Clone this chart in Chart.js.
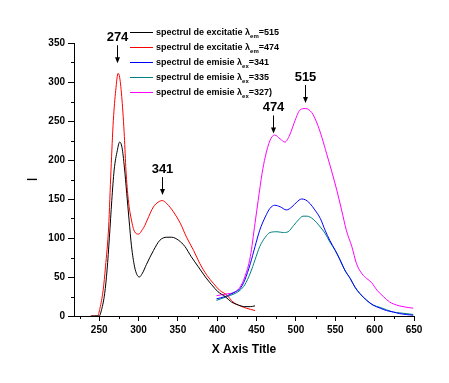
<!DOCTYPE html>
<html>
<head>
<meta charset="utf-8">
<script src="https://cdn.jsdelivr.net/npm/chart.js@4/dist/chart.umd.min.js"></script>
<style>
  html, body { margin: 0; padding: 0; background: #fff; }
  canvas { display: block; }
</style>
</head>
<body>
<canvas id="c" width="449" height="383"></canvas>
<script>
// ---- data ----
const seriesNames = [
  'spectrul de excitatie λ_em=515',
  'spectrul de excitatie λ_em=474',
  'spectrul de emisie λ_ex=341',
  'spectrul de emisie λ_ex=335',
  'spectrul de emisie λ_ex=327)'
];
const seriesColors = ['#000000', '#ff0000', '#0000ff', '#008080', '#ff00ff'];

const exc515 = [[240,0],[250,0],[253,8],[257,29],[260,59],[263,101],[266,148],[269,187],[273,212],[276,223],[279,216],[282,191],[285,157],[288,123],[291,90],[295,63],[298,53],[301,50],[305,55],[310,66],[319,84],[327,97],[336,101],[342,101],[351,97],[359,89],[367,76],[376,63],[385,50],[393,40],[401,31],[410,25],[418,18],[427,14],[435,12],[442,12],[448,13]];
const exc474 = [[239,0],[248,0],[251,10],[255,33],[258,63],[262,114],[265,187],[268,251],[271,289],[274,311],[276,306],[279,277],[282,230],[284,187],[287,149],[291,123],[295,108],[300,105],[305,111],[308,116],[311,123],[319,140],[325,146],[330,148],[336,144],[344,134],[353,119],[361,101],[370,84],[378,67],[387,52],[395,42],[403,33],[412,27],[420,18],[429,13],[437,10],[448,7]];
const em341 = [[399,22],[410,25],[423,31],[429,35],[435,46],[442,67],[448,89],[454,110],[461,127],[467,138],[473,142],[480,140],[488,136],[495,140],[501,146],[507,150],[512,149],[518,144],[524,136],[531,125],[537,110],[543,97],[550,84],[556,72],[562,59],[569,48],[575,37],[581,29],[590,20],[598,14],[607,10],[615,7],[624,5],[632,3],[649,1]];
const em335 = [[399,20],[410,24],[423,29],[429,33],[435,40],[442,55],[448,72],[454,89],[461,101],[467,107],[476,108],[484,107],[490,108],[497,116],[503,123],[509,128],[514,128],[522,124],[531,114],[537,106],[543,95],[550,84],[556,72],[562,59],[569,48],[575,37],[581,29],[590,20],[598,14],[607,11],[615,8],[624,5],[632,4],[649,2]];
const em327 = [[399,26],[410,28],[423,31],[429,37],[435,50],[442,76],[448,119],[452,148],[457,183],[461,204],[467,225],[473,232],[480,227],[486,223],[492,232],[499,251],[505,264],[512,266],[520,261],[526,249],[533,229],[539,208],[545,187],[552,161],[558,136],[564,110],[571,89],[577,67],[584,54],[590,48],[596,43],[603,33],[611,25],[619,18],[628,14],[636,12],[649,10]];

const xTicks = [250, 300, 350, 400, 450, 500, 550, 600, 650];
const yTicks = [0, 50, 100, 150, 200, 250, 300, 350];
const xMinorTicks = [225, 275, 325, 375, 425, 475, 525, 575, 625];
const yMinorTicks = [25, 75, 125, 175, 225, 275, 325];

// peak annotations: label, wavelength, intensity of arrow tip
const peakLabels = ['274', '341', '474', '515'];
const peakX = [272, 330, 471, 512];
const peakY = [324, 155, 234, 273];

const allSeries = [exc515, exc474, em341, em335, em327];

// ---- plugins ----
const extras = {
  id: 'extras',
  afterDraw(chart) {
    const ctx = chart.ctx;
    const xs = chart.scales.x, ys = chart.scales.y;
    const area = chart.chartArea;
    ctx.save();
    // minor ticks
    ctx.strokeStyle = '#000';
    ctx.lineWidth = 1;
    ctx.beginPath();
    xMinorTicks.forEach(v => {
      const p = Math.round(xs.getPixelForValue(v)) + 0.5;
      ctx.moveTo(p, area.bottom); ctx.lineTo(p, area.bottom + 3);
    });
    yMinorTicks.forEach(v => {
      const p = Math.round(ys.getPixelForValue(v)) + 0.5;
      ctx.moveTo(area.left, p); ctx.lineTo(area.left - 3, p);
    });
    ctx.stroke();

    // peak annotations
    ctx.fillStyle = '#000';
    ctx.font = 'bold 13px "Liberation Sans", Arial, sans-serif';
    ctx.textAlign = 'center';
    ctx.textBaseline = 'middle';
    peakLabels.forEach((t, i) => {
      const px = Math.round(xs.getPixelForValue(peakX[i])) + 0.5;
      const tip = ys.getPixelForValue(peakY[i]);
      ctx.fillText(t, px, tip - 26);
      ctx.beginPath();
      ctx.moveTo(px, tip - 18); ctx.lineTo(px, tip - 5);
      ctx.stroke();
      ctx.beginPath();
      ctx.moveTo(px - 2.5, tip - 6); ctx.lineTo(px + 2.5, tip - 6); ctx.lineTo(px, tip);
      ctx.closePath();
      ctx.fill();
    });

    // legend
    const lx0 = 130, lx1 = 153, tx = 156, ly0 = 32, dy = 15;
    chart.data.datasets.forEach((ds, i) => {
      const y = ly0 + i * dy + 0.5;
      ctx.strokeStyle = ds.borderColor;
      ctx.beginPath();
      ctx.moveTo(lx0, y); ctx.lineTo(lx1, y);
      ctx.stroke();
      const m = ds.label.match(/^(.*)_([a-z]+)(.*)$/);
      ctx.fillStyle = '#000';
      ctx.textAlign = 'left';
      ctx.textBaseline = 'middle';
      ctx.font = 'bold 9px "Liberation Sans", Arial, sans-serif';
      let x = tx;
      ctx.fillText(m[1], x, y);
      x += ctx.measureText(m[1]).width;
      ctx.font = 'bold 6px "Liberation Sans", Arial, sans-serif';
      ctx.fillText(m[2], x, y + 4);
      x += ctx.measureText(m[2]).width;
      ctx.font = 'bold 9px "Liberation Sans", Arial, sans-serif';
      ctx.fillText(m[3], x, y);
    });
    ctx.restore();
  }
};

const tickFont = { family: '"Liberation Sans", Arial, sans-serif', size: 10, weight: 'bold' };

new Chart(document.getElementById('c'), {
  type: 'scatter',
  data: {
    datasets: allSeries.map((s, i) => ({
      label: seriesNames[i],
      data: s.map(p => ({ x: p[0], y: p[1] })),
      showLine: true,
      borderColor: seriesColors[i],
      backgroundColor: seriesColors[i],
      borderWidth: 1,
      pointRadius: 0,
      cubicInterpolationMode: 'monotone',
      fill: false
    }))
  },
  options: {
    responsive: false,
    animation: false,
    events: [],
    layout: { padding: { top: 43, right: 35, left: 0, bottom: 0 } },
    plugins: { legend: { display: false }, tooltip: { enabled: false } },
    scales: {
      x: {
        type: 'linear',
        min: 218,
        max: 650,
        afterBuildTicks: s => { s.ticks = xTicks.map(v => ({ value: v })); },
        afterFit: s => { s.height = 67; },
        grid: { drawOnChartArea: false, tickLength: 5, color: '#000', tickColor: '#000' },
        border: { color: '#000', width: 1 },
        ticks: { color: '#000', font: tickFont, padding: 3, maxRotation: 0, autoSkip: false },
        title: { display: true, text: 'X Axis Title', color: '#000',
                 font: { family: '"Liberation Sans", Arial, sans-serif', size: 12, weight: 'bold' },
                 padding: { top: 0, bottom: 26 } }
      },
      y: {
        type: 'linear',
        min: 0,
        max: 350,
        afterBuildTicks: s => { s.ticks = yTicks.map(v => ({ value: v })); },
        afterFit: s => { s.width = 74; },
        grid: { drawOnChartArea: false, tickLength: 6, color: '#000', tickColor: '#000' },
        border: { color: '#000', width: 1 },
        ticks: { color: '#000', font: tickFont, padding: 3, autoSkip: false },
        title: { display: true, text: 'I', color: '#000',
                 font: { family: '"Liberation Sans", Arial, sans-serif', size: 15, weight: 'normal' },
                 padding: { top: 24, bottom: 0 } }
      }
    }
  },
  plugins: [extras]
});
</script>
</body>
</html>
